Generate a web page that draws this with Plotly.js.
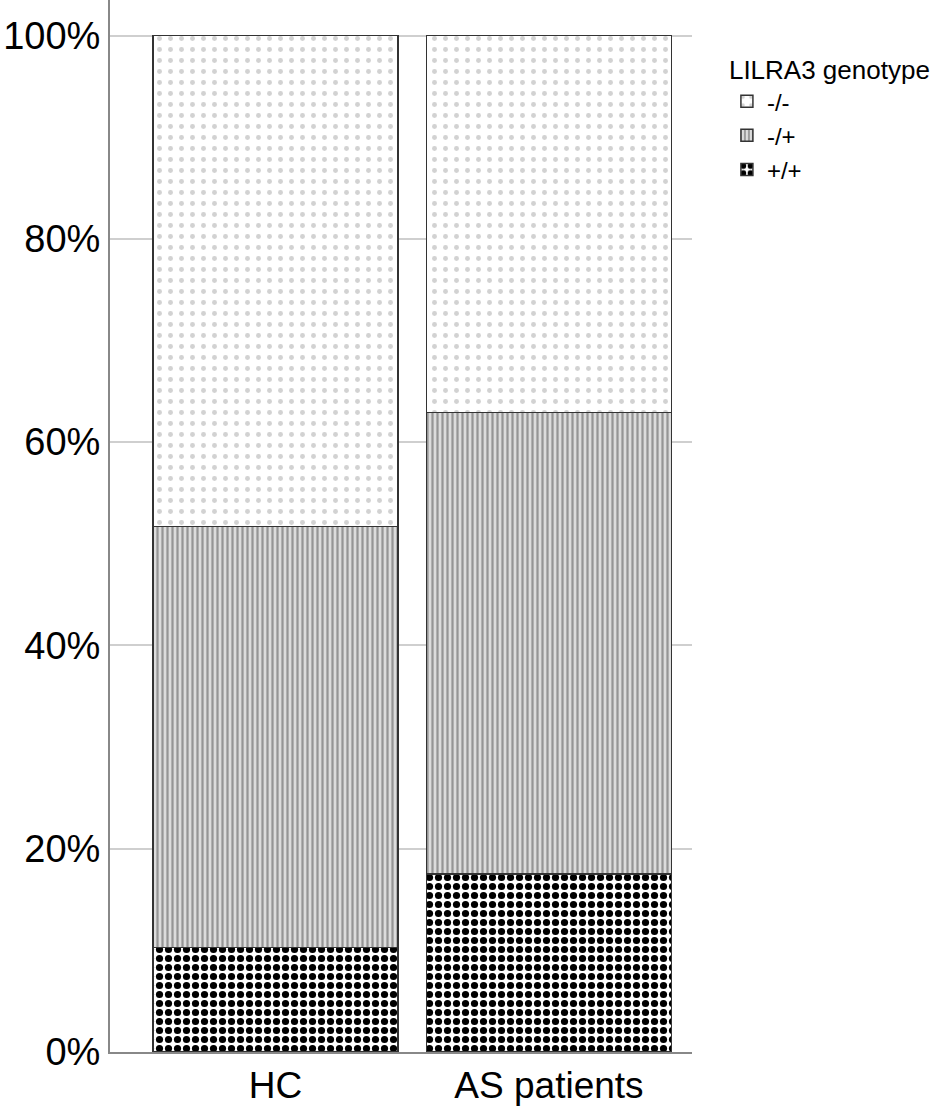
<!DOCTYPE html>
<html>
<head>
<meta charset="utf-8">
<script src="https://cdn.plot.ly/plotly-3.0.1.min.js"></script>
<style>html,body{margin:0;padding:0;background:#fff;}</style>
</head>
<body>
<div id="chart" style="width:950px;height:1112px;"></div>
<script>
const categories = ["HC", "AS patients"];
const catPositions = [0, 1];
const homozygousPlus = [10.3, 17.5];   // +/+
const heterozygous = [41.4, 45.4];     // -/+
const homozygousMinus = [48.3, 37.1];  // -/-
const yTickVals = [0, 20, 40, 60, 80, 100];
const yTickText = ["0%", "20%", "40%", "60%", "80%", "100%"];

const barWidth = 0.895;
const outline = {color: "#333", width: 1.5};

const traces = [
  {
    type: "bar", name: "+/+", x: catPositions, y: homozygousPlus, width: barWidth,
    marker: {color: "#fff", line: outline,
      pattern: {shape: ".", bgcolor: "#fff", fgcolor: "#000", fgopacity: 1, size: 9, solidity: 0.5, fillmode: "replace"}},
    hoverinfo: "skip"
  },
  {
    type: "bar", name: "-/+", x: catPositions, y: heterozygous, width: barWidth,
    marker: {color: "#fff", line: outline,
      pattern: {shape: "|", bgcolor: "#dcdcdc", fgcolor: "#959595", fgopacity: 1, size: 5, solidity: 0.45, fillmode: "replace"}},
    hoverinfo: "skip"
  },
  {
    type: "bar", name: "-/-", x: catPositions, y: homozygousMinus, width: barWidth,
    marker: {color: "#fff", line: outline,
      pattern: {shape: ".", bgcolor: "#fff", fgcolor: "#d2d2d2", fgopacity: 1, size: 11, solidity: 0.16, fillmode: "replace"}},
    hoverinfo: "skip"
  }
];

const layout = {
  width: 950, height: 1112,
  margin: {l: 110, r: 258, t: 0, b: 60},
  paper_bgcolor: "#fff", plot_bgcolor: "#fff",
  barmode: "stack",
  font: {family: "Liberation Sans, Arial, sans-serif", color: "#000"},
  xaxis: {
    range: [-0.605, 1.523],
    tickvals: catPositions, ticktext: categories,
    tickfont: {size: 37, color: "#000"},
    showgrid: false, zeroline: false,
    showline: true, linecolor: "#888", linewidth: 2,
    ticks: "", ticklen: 0
  },
  yaxis: {
    range: [0, 103.5],
    tickvals: yTickVals, ticktext: yTickText,
    tickfont: {size: 38, color: "#000"},
    showgrid: true, gridcolor: "#cfcfcf", gridwidth: 2,
    zeroline: false,
    showline: true, linecolor: "#888", linewidth: 2,
    ticks: "", ticklen: 0
  },
  showlegend: true,
  legend: {
    x: 1.06, xanchor: "left", y: 0.957, yanchor: "top",
    traceorder: "reversed",
    title: {text: "LILRA3 genotype", font: {size: 26, color: "#000"}},
    font: {size: 24, color: "#000"},
    itemwidth: 30, tracegroupgap: 0,
    bgcolor: "rgba(0,0,0,0)"
  }
};

Plotly.newPlot("chart", traces, layout, {displayModeBar: false, staticPlot: true});
</script>
</body>
</html>
